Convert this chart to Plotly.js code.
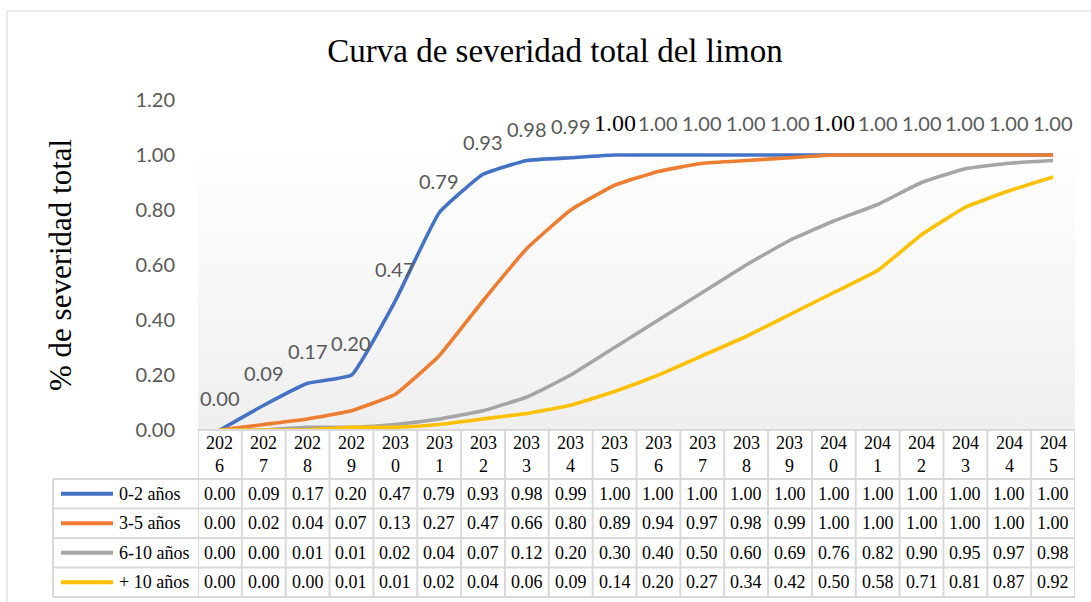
<!DOCTYPE html>
<html>
<head>
<meta charset="utf-8">
<script src="https://cdn.plot.ly/plotly-3.0.1.min.js"></script>
<style>html,body{margin:0;padding:0;background:#fff}#chart{width:1091px;height:602px}</style>
</head>
<body>
<div id="chart"></div>
<script>
// ---- data ----
const years = ['2026','2027','2028','2029','2030','2031','2032','2033','2034','2035',
               '2036','2037','2038','2039','2040','2041','2042','2043','2044','2045'];
const seriesNames = ['0-2 años', '3-5 años', '6-10 años', '+ 10 años'];
const s0_2  = [0.00,0.09,0.17,0.20,0.47,0.79,0.93,0.98,0.99,1.00,1.00,1.00,1.00,1.00,1.00,1.00,1.00,1.00,1.00,1.00];
const s3_5  = [0.00,0.02,0.04,0.07,0.13,0.27,0.47,0.66,0.80,0.89,0.94,0.97,0.98,0.99,1.00,1.00,1.00,1.00,1.00,1.00];
const s6_10 = [0.00,0.00,0.01,0.01,0.02,0.04,0.07,0.12,0.20,0.30,0.40,0.50,0.60,0.69,0.76,0.82,0.90,0.95,0.97,0.98];
const s10p  = [0.00,0.00,0.00,0.01,0.01,0.02,0.04,0.06,0.09,0.14,0.20,0.27,0.34,0.42,0.50,0.58,0.71,0.81,0.87,0.92];
const yTicks = [0, 0.2, 0.4, 0.6, 0.8, 1.0, 1.2];
const chartTitle = 'Curva de severidad total del limon';
const yTitle = '% de severidad total';

// ---- style ----
const W = 1091, H = 602;
const px = x => x / W;
const py = y => 1 - y / H;
const colors = ['#4472C4', '#ED7D31', '#A5A5A5', '#FFC000'];
const allSeries = [s0_2, s3_5, s6_10, s10p];
const serif = 'Liberation Serif, Times New Roman, serif';
const sans = 'Lato, Carlito, sans-serif';
const gridC = '#d9d9d9';
const serifLabelYears = ['2035', '2040'];

const traces = allSeries.map((s, i) => ({
  type: 'scatter', mode: 'lines', x: years, y: s, name: seriesNames[i],
  line: {color: colors[i], width: 3.6, shape: 'spline', smoothing: 0.35},
  hoverinfo: 'skip'
}));

const shapes = [];
const annotations = [];

// vertical gridlines in the plot area
years.forEach(yr => shapes.push({type: 'line', xref: 'x', yref: 'y', x0: yr, x1: yr, y0: 0, y1: 1.0,
  line: {color: gridC, width: 1.5}, layer: 'below'}));

// data labels for first series (category axis: annotation x = category index)
years.forEach((yr, i) => {
  const isSerif = serifLabelYears.includes(yr);
  annotations.push({xref: 'x', yref: 'y', x: i, y: s0_2[i], yshift: 32, showarrow: false,
    xanchor: 'center', yanchor: 'middle',
    text: s0_2[i].toFixed(2),
    font: isSerif ? {family: serif, size: 24, color: '#000'} : {family: sans, size: 20, color: '#595959'}});
});

// y axis title
annotations.push({xref: 'paper', yref: 'paper', x: px(60), y: py(265), xanchor: 'center', yanchor: 'middle',
  showarrow: false, textangle: -90, text: yTitle, font: {family: serif, size: 31, color: '#000'}});

// data table
const tTop = 430, hBot = 479, rowH = 29.5, legL = 53, tBot = hBot + 4 * rowH;
shapes.push({type: 'line', xref: 'x', yref: 'paper', x0: -0.5, x1: years.length - 0.5, y0: py(tTop), y1: py(tTop), line: {color: gridC, width: 2}});
for (let r = 0; r <= 4; r++) {
  const yy = py(hBot + r * rowH);
  shapes.push({type: 'line', xref: 'paper', yref: 'paper', x0: px(legL), x1: px(1075), y0: yy, y1: yy, line: {color: gridC, width: 2}});
}
for (let c = 0; c <= years.length; c++) {
  shapes.push({type: 'line', xref: 'x', yref: 'paper', x0: c - 0.5, x1: c - 0.5, y0: py(tTop), y1: py(tBot), line: {color: gridC, width: 2}});
}
shapes.push({type: 'line', xref: 'paper', yref: 'paper', x0: px(legL), x1: px(legL), y0: py(hBot), y1: py(tBot), line: {color: gridC, width: 2}});

// header cells
years.forEach((yr, i) => annotations.push({xref: 'x', yref: 'paper', x: i, y: py((tTop + hBot) / 2),
  xanchor: 'center', yanchor: 'middle', showarrow: false,
  text: yr.slice(0, 3) + '<br>' + yr.slice(3), font: {family: serif, size: 18, color: '#000'}}));

// value cells + legend keys
allSeries.forEach((s, r) => {
  const yc = py(hBot + (r + 0.5) * rowH);
  s.forEach((v, i) => annotations.push({xref: 'x', yref: 'paper', x: i, y: yc, xanchor: 'center', yanchor: 'middle',
    showarrow: false, text: v.toFixed(2), font: {family: serif, size: 18, color: '#000'}}));
  shapes.push({type: 'line', xref: 'paper', yref: 'paper', x0: px(61), x1: px(113), y0: yc, y1: yc,
    line: {color: colors[r], width: 4}});
  annotations.push({xref: 'paper', yref: 'paper', x: px(117), y: yc, xanchor: 'left', yanchor: 'middle', showarrow: false,
    text: seriesNames[r], font: {family: serif, size: 18, color: '#000'}});
});

// chart border (top and left visible)
shapes.push({type: 'line', xref: 'paper', yref: 'paper', x0: px(7), x1: 1, y0: py(11), y1: py(11), line: {color: gridC, width: 1.2}});
shapes.push({type: 'line', xref: 'paper', yref: 'paper', x0: px(7), x1: px(7), y0: py(11), y1: 0, line: {color: gridC, width: 1.2}});

// gradient plot background
const svg = '<svg xmlns="http://www.w3.org/2000/svg" width="100" height="100" preserveAspectRatio="none">' +
  '<defs><linearGradient id="g" x1="0" y1="0" x2="0" y2="1"><stop offset="0" stop-color="#ffffff"/>' +
  '<stop offset="1" stop-color="#efefef"/></linearGradient></defs><rect width="100" height="100" fill="url(#g)"/></svg>';
const images = [{source: 'data:image/svg+xml;charset=utf-8,' + encodeURIComponent(svg),
  xref: 'paper', yref: 'paper', x: px(198), y: py(143), sizex: px(1075) - px(198), sizey: py(143) - py(430),
  xanchor: 'left', yanchor: 'top', sizing: 'stretch', layer: 'below'}];

const layout = {
  width: W, height: H, margin: {l: 0, r: 0, t: 0, b: 0},
  paper_bgcolor: '#ffffff', plot_bgcolor: 'rgba(0,0,0,0)', showlegend: false,
  title: {text: chartTitle, font: {family: serif, size: 33, color: '#000'}, x: px(555), xanchor: 'center',
          xref: 'paper', y: py(50), yanchor: 'middle', yref: 'paper'},
  xaxis: {type: 'category', domain: [px(198), px(1075)], range: [-0.5, years.length - 0.5],
          showticklabels: false, showgrid: false, zeroline: false, showline: false, ticks: ''},
  yaxis: {domain: [py(430), py(100)], range: [0, 1.2], tickvals: yTicks, tickformat: '.2f',
          showgrid: false, zeroline: false, showline: false, ticks: '', ticklabelstandoff: 22,
          tickfont: {family: sans, size: 20, color: '#595959'}},
  shapes, annotations, images
};

Plotly.newPlot('chart', traces, layout, {displayModeBar: false, staticPlot: true});
</script>
</body>
</html>
